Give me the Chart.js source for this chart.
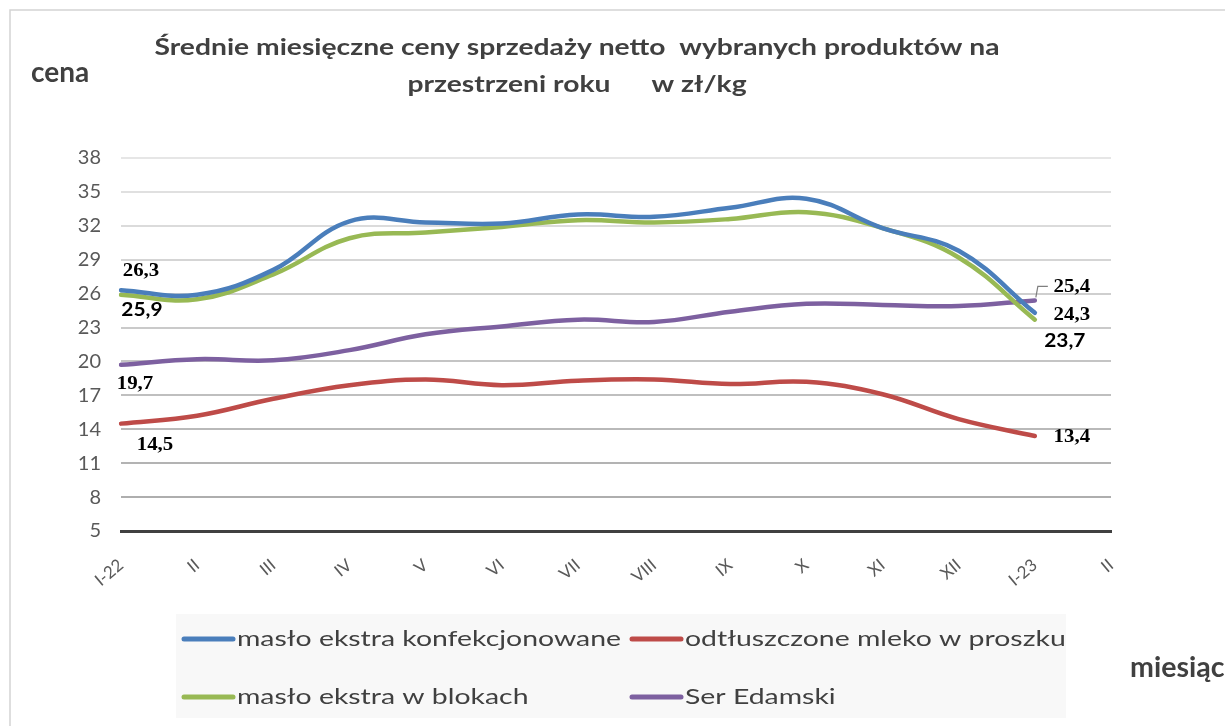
<!DOCTYPE html>
<html>
<head>
<meta charset="utf-8">
<script src="https://cdn.jsdelivr.net/npm/chart.js@4"></script>
<style>
  html, body { margin: 0; padding: 0; background: #fff; }
  canvas { display: block; }
</style>
</head>
<body>
<canvas id="wykres" width="1225" height="726"></canvas>
<script>
// dane
const miesiace = ['I-22', 'II', 'III', 'IV', 'V', 'VI', 'VII', 'VIII', 'IX', 'X', 'XI', 'XII', 'I-23', 'II'];
const masloKonf = [26.3, 25.9, 28.1, 32.4, 32.3, 32.2, 33.0, 32.8, 33.6, 34.4, 31.8, 29.8, 24.3];
const mlekoProszek = [14.5, 15.2, 16.7, 17.9, 18.4, 17.9, 18.3, 18.4, 18.0, 18.2, 17.1, 14.9, 13.4];
const masloBloki = [25.9, 25.5, 27.7, 30.9, 31.4, 31.9, 32.5, 32.3, 32.6, 33.2, 31.8, 29.2, 23.7];
const serEdamski = [19.7, 20.2, 20.1, 21.0, 22.4, 23.1, 23.7, 23.5, 24.4, 25.1, 25.0, 24.9, 25.4];
const osY = { min: 5, max: 38, krok: 3 };

const tytul = ['Średnie miesięczne ceny sprzedaży netto  wybranych produktów na', 'przestrzeni roku      w zł/kg'];

const sans = 'Lato, "Open Sans", sans-serif';
const serif = '"Liberation Serif", "DejaVu Serif", serif';

function fmt(v) { return v.toFixed(1).replace('.', ','); }

// etykiety wartości: [dataset, indeks punktu, dx, dy, font]
const etykiety = [
    [0, 0, 20, -19, 'serif'],
    [2, 0, 21, 15, 'sans'],
    [3, 0, 14, 19, 'serif'],
    [1, 0, 34, 21, 'serif'],
    [3, 12, 37, -13, 'serif'],
    [0, 12, 37, 2, 'serif'],
    [2, 12, 30, 21, 'sans'],
    [1, 12, 37, 1, 'serif']
];

function kolorSiatki(v) {
    if (v === osY.min) return '#404040';
    const t = (osY.max - v) / (osY.max - osY.min);
    const c = Math.round(230 - t * 62);
    return `rgb(${c},${c},${c})`;
}

// tekst rozciągnięty w poziomie (oryginał jest poszerzony)
function napis(ctx, txt, x, y, sx) {
    ctx.save();
    ctx.translate(x, y);
    ctx.scale(sx, 1);
    ctx.fillText(txt, 0, 0);
    ctx.restore();
}

const dodatki = {
    id: 'dodatki',
    afterDraw(chart) {
        const ctx = chart.ctx;
        ctx.save();

        // ramka
        ctx.strokeStyle = '#d4d4d4';
        ctx.lineWidth = 1.5;
        ctx.beginPath();
        ctx.moveTo(10, 726);
        ctx.lineTo(10, 10);
        ctx.lineTo(1225, 10);
        ctx.stroke();

        // tytuł
        ctx.fillStyle = '#404040';
        ctx.textAlign = 'center';
        ctx.textBaseline = 'alphabetic';
        ctx.font = 'bold 23px ' + sans;
        const sxT = 845 / ctx.measureText(tytul[0]).width;
        napis(ctx, tytul[0], 577, 55, sxT);
        napis(ctx, tytul[1], 577, 92, sxT);

        ctx.textAlign = 'left';
        ctx.font = 'bold 28px ' + sans;
        napis(ctx, 'cena', 31, 82, 1);
        napis(ctx, 'miesiąc', 1130, 677, 1.02);

        // etykiety danych
        ctx.fillStyle = '#000';
        ctx.textAlign = 'center';
        ctx.textBaseline = 'middle';
        etykiety.forEach(([d, i, dx, dy, f]) => {
            const p = chart.getDatasetMeta(d).data[i];
            const v = chart.data.datasets[d].data[i];
            ctx.font = f === 'sans' ? 'bold 19px ' + sans : 'bold 19px ' + serif;
            napis(ctx, fmt(v), p.x + dx, p.y + dy, 1.1);
        });
        // linia odniesienia dla 25,4
        const pp = chart.getDatasetMeta(3).data[12];
        ctx.strokeStyle = '#7f7f7f';
        ctx.lineWidth = 1.2;
        ctx.beginPath();
        ctx.moveTo(pp.x + 1, pp.y - 3);
        ctx.lineTo(pp.x + 3, pp.y - 14);
        ctx.lineTo(pp.x + 13, pp.y - 14);
        ctx.stroke();

        // legenda
        ctx.fillStyle = '#f8f8f8';
        ctx.fillRect(176, 614, 890, 104);
        const kol = [182, 630];
        const wier = [639, 697];
        ctx.textAlign = 'left';
        ctx.textBaseline = 'middle';
        ctx.font = '22px ' + sans;
        const sxL = 384 / ctx.measureText(chart.data.datasets[0].label).width;
        chart.data.datasets.forEach((ds, k) => {
            const x = kol[k % 2];
            const y = wier[Math.floor(k / 2)];
            ctx.strokeStyle = ds.borderColor;
            ctx.lineWidth = 5;
            ctx.lineCap = 'round';
            ctx.beginPath();
            ctx.moveTo(x + 2, y);
            ctx.lineTo(x + 51, y);
            ctx.stroke();
            ctx.fillStyle = '#404040';
            napis(ctx, ds.label, x + 55, y, sxL);
        });
        ctx.restore();
    }
};

const seria = (label, data, kolor) => ({
    label: label,
    data: data,
    borderColor: kolor,
    backgroundColor: kolor,
    borderWidth: 4.5,
    tension: 0.4,
    pointRadius: 0,
    fill: false,
    borderCapStyle: 'round'
});

new Chart(document.getElementById('wykres').getContext('2d'), {
    type: 'line',
    data: {
        labels: miesiace,
        datasets: [
            seria('masło ekstra konfekcjonowane', masloKonf, '#4a7ebb'),
            seria('odtłuszczone mleko w proszku', mlekoProszek, '#be4b48'),
            seria('masło ekstra w blokach', masloBloki, '#98b954'),
            seria('Ser Edamski', serEdamski, '#7d60a0')
        ]
    },
    options: {
        responsive: false,
        animation: false,
        layout: { padding: { top: 158, right: 114, bottom: 0, left: 0 } },
        plugins: {
            legend: { display: false },
            title: { display: false },
            tooltip: { enabled: false }
        },
        scales: {
            x: {
                offset: false,
                grid: { display: false, drawTicks: false },
                border: { color: '#404040', width: 3 },
                ticks: {
                    autoSkip: false,
                    minRotation: 40,
                    maxRotation: 40,
                    padding: 24,
                    color: '#595959',
                    font: { family: sans, size: 17 }
                },
                afterFit(s) { s.height = 195; }
            },
            y: {
                min: osY.min,
                max: osY.max,
                grid: {
                    drawTicks: false,
                    lineWidth: 2,
                    color: c => kolorSiatki(c.tick.value)
                },
                border: { display: false },
                ticks: {
                    stepSize: osY.krok,
                    padding: 20,
                    color: '#595959',
                    font: { family: sans, size: 20 }
                },
                afterFit(s) { s.width = 121; }
            }
        }
    },
    plugins: [dodatki]
});
</script>
</body>
</html>
